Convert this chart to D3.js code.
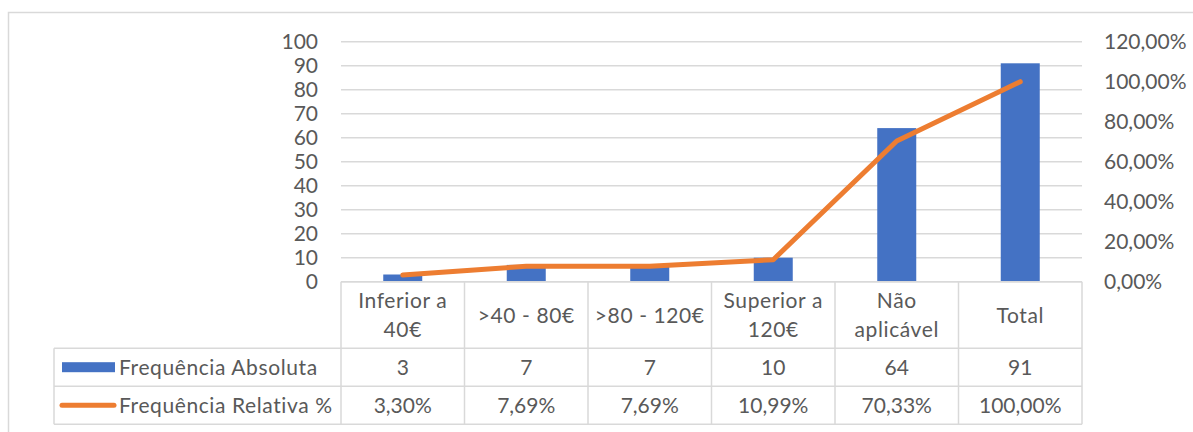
<!DOCTYPE html>
<html>
<head>
<meta charset="utf-8">
<script src="https://cdn.jsdelivr.net/npm/d3@7"></script>
<style>
  body { margin: 0; background: #fff; }
  svg text { font-family: Lato, "Open Sans", sans-serif; fill: #595959; }
  svg text.word { letter-spacing: 0.6px; }
</style>
</head>
<body>
<svg id="chart" width="1193" height="432"></svg>
<script>
var categories = [["Inferior a", "40€"], [">40 - 80€"], [">80 - 120€"], ["Superior a", "120€"], ["Não", "aplicável"], ["Total"]];
var absValues = [3, 7, 7, 10, 64, 91];
var relValues = [0.033, 0.0769, 0.0769, 0.1099, 0.7033, 1.0];
var absLabels = ["3", "7", "7", "10", "64", "91"];
var relLabels = ["3,30%", "7,69%", "7,69%", "10,99%", "70,33%", "100,00%"];
var leftTicks = [0, 10, 20, 30, 40, 50, 60, 70, 80, 90, 100];
var rightTicks = [0, 0.2, 0.4, 0.6, 0.8, 1.0, 1.2];
var seriesNames = ["Frequência Absoluta", "Frequência Relativa %"];

var svg = d3.select("#chart");
var plotLeft = 341, plotRight = 1082, plotTop = 41.7, plotBottom = 281.7;
var rowH = [66.5, 38, 38];
var legendLeft = 54;
var fs = 21;

// chart frame
svg.append("rect")
  .attr("x", 8.5).attr("y", 12.5)
  .attr("width", 1300).attr("height", 500)
  .attr("fill", "none").attr("stroke", "#d9d9d9").attr("stroke-width", 1.5);

var idx = d3.range(categories.length);
var x = d3.scaleBand().domain(idx).range([plotLeft, plotRight]);
var yL = d3.scaleLinear().domain([0, 100]).range([plotBottom, plotTop]);
var yR = d3.scaleLinear().domain([0, 1.2]).range([plotBottom, plotTop]);

// gridlines
svg.append("g").selectAll("line")
  .data(leftTicks)
  .enter().append("line")
  .attr("x1", plotLeft).attr("x2", plotRight)
  .attr("y1", function(d){ return yL(d); })
  .attr("y2", function(d){ return yL(d); })
  .attr("stroke", "#d9d9d9").attr("stroke-width", 1.5);

// left axis labels
svg.append("g").selectAll("text")
  .data(leftTicks)
  .enter().append("text")
  .attr("x", 318)
  .attr("y", function(d){ return yL(d); })
  .attr("dy", "0.36em")
  .attr("text-anchor", "end")
  .attr("font-size", fs)
  .text(function(d){ return d; });

// right axis labels
var pct = function(v){ return d3.format(".2f")(v * 100).replace(".", ",") + "%"; };
svg.append("g").selectAll("text")
  .data(rightTicks)
  .enter().append("text")
  .attr("x", 1104)
  .attr("y", function(d){ return yR(d); })
  .attr("dy", "0.36em")
  .attr("font-size", fs)
  .text(pct);

// bars
var bw = 39;
svg.append("g").selectAll("rect")
  .data(absValues)
  .enter().append("rect")
  .attr("x", function(d, i){ return x(i) + x.bandwidth() / 2 - bw / 2; })
  .attr("y", function(d){ return yL(d); })
  .attr("width", bw)
  .attr("height", function(d){ return plotBottom - yL(d); })
  .attr("fill", "#4472c4");

// line
var line = d3.line()
  .x(function(d, i){ return x(i) + x.bandwidth() / 2; })
  .y(function(d){ return yR(d); });
svg.append("path")
  .datum(relValues)
  .attr("d", line)
  .attr("fill", "none")
  .attr("stroke", "#ed7d31")
  .attr("stroke-width", 5)
  .attr("stroke-linecap", "round")
  .attr("stroke-linejoin", "round");

// data table
var t = svg.append("g");
var rowTop = [plotBottom, plotBottom + rowH[0], plotBottom + rowH[0] + rowH[1]];
var tableBottom = rowTop[2] + rowH[2];
var gridColor = "#d9d9d9";

t.append("line").attr("x1", plotLeft).attr("x2", plotRight).attr("y1", rowTop[0]).attr("y2", rowTop[0])
  .attr("stroke", gridColor).attr("stroke-width", 1.5);
[rowTop[1], rowTop[2], tableBottom].forEach(function(yy){
  t.append("line").attr("x1", legendLeft).attr("x2", plotRight).attr("y1", yy).attr("y2", yy)
    .attr("stroke", gridColor).attr("stroke-width", 1.5);
});
idx.concat([categories.length]).forEach(function(i){
  var xx = i < categories.length ? x(i) : plotRight;
  t.append("line").attr("x1", xx).attr("x2", xx).attr("y1", rowTop[0]).attr("y2", tableBottom)
    .attr("stroke", gridColor).attr("stroke-width", 1.5);
});
t.append("line").attr("x1", legendLeft).attr("x2", legendLeft).attr("y1", rowTop[1]).attr("y2", tableBottom)
  .attr("stroke", gridColor).attr("stroke-width", 1.5);

// category labels
categories.forEach(function(lines, i){
  var cx = x(i) + x.bandwidth() / 2;
  var cy = rowTop[0] + rowH[0] / 2;
  var lh = 29;
  lines.forEach(function(s, j){
    t.append("text")
      .attr("class", "word")
      .attr("x", cx)
      .attr("y", cy + (j - (lines.length - 1) / 2) * lh)
      .attr("dy", "0.36em")
      .attr("text-anchor", "middle")
      .attr("font-size", fs)
      .text(s);
  });
});

// value rows
[absLabels, relLabels].forEach(function(labels, r){
  t.selectAll(null)
    .data(labels)
    .enter().append("text")
    .attr("x", function(d, i){ return x(i) + x.bandwidth() / 2; })
    .attr("y", rowTop[r + 1] + rowH[r + 1] / 2)
    .attr("dy", "0.36em")
    .attr("text-anchor", "middle")
    .attr("font-size", fs)
    .text(function(d){ return d; });
});

// legend keys
t.append("rect")
  .attr("x", 62).attr("y", rowTop[1] + rowH[1] / 2 - 5)
  .attr("width", 53).attr("height", 10)
  .attr("fill", "#4472c4");
t.append("line")
  .attr("x1", 62).attr("x2", 114)
  .attr("y1", rowTop[2] + rowH[2] / 2).attr("y2", rowTop[2] + rowH[2] / 2)
  .attr("stroke", "#ed7d31").attr("stroke-width", 5).attr("stroke-linecap", "round");
seriesNames.forEach(function(s, r){
  t.append("text")
    .attr("class", "word")
    .attr("x", 119)
    .attr("y", rowTop[r + 1] + rowH[r + 1] / 2)
    .attr("dy", "0.36em")
    .attr("font-size", fs)
    .text(s);
});
</script>
</body>
</html>
